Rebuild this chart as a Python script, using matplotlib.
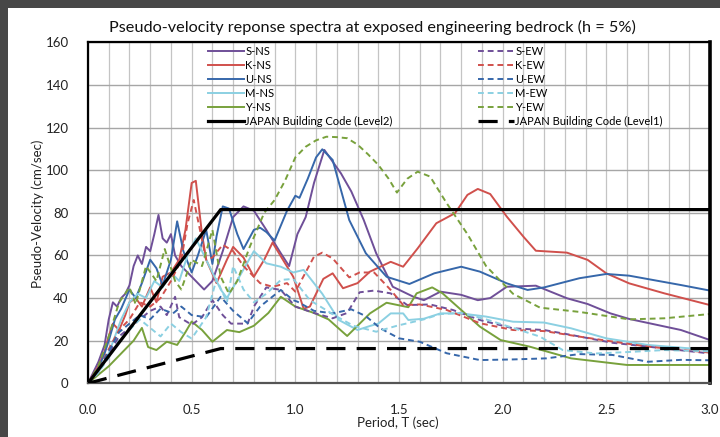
import matplotlib
matplotlib.use("Agg")
import matplotlib.pyplot as plt
from matplotlib.patches import Rectangle

plt.rcParams['font.family'] = ['Lato', 'DejaVu Sans']

# ---------------- data ----------------
S_NS_T = [0, 0.05, 0.08, 0.1, 0.12, 0.14, 0.16, 0.18, 0.2, 0.22, 0.24, 0.26, 0.28, 0.3, 0.32, 0.34, 0.36, 0.38, 0.4, 0.42, 0.45, 0.5, 0.56, 0.6, 0.65, 0.7, 0.75, 0.8, 0.86, 0.93, 0.97, 1.01, 1.05, 1.09, 1.14, 1.22, 1.27, 1.33, 1.39, 1.47, 1.57, 1.62, 1.7, 1.8, 1.88, 1.94, 2.02, 2.16, 2.31, 2.41, 2.52, 2.61, 2.86, 3.0]
S_NS_V = [0, 10, 18, 30, 38, 36, 40, 42, 46, 55, 60, 56, 64, 62, 70, 79, 68, 66, 70, 60, 55, 50, 44, 48, 62, 78, 83, 81, 72, 61, 55, 70, 78, 94, 109.5, 98.5, 90, 76.6, 61, 45.3, 40.6, 39, 43, 41.5, 39, 40, 45.3, 45.8, 39.9, 37.2, 32.8, 30.2, 25, 20.3]

K_NS_T = [0, 0.05, 0.08, 0.1, 0.12, 0.15, 0.18, 0.2, 0.23, 0.26, 0.3, 0.33, 0.36, 0.4, 0.44, 0.47, 0.5, 0.52, 0.55, 0.57, 0.62, 0.67, 0.7, 0.75, 0.8, 0.85, 0.89, 0.94, 0.99, 1.04, 1.07, 1.135, 1.18, 1.23, 1.3, 1.36, 1.46, 1.52, 1.59, 1.68, 1.77, 1.83, 1.88, 1.94, 2.02, 2.1, 2.16, 2.31, 2.41, 2.5, 2.61, 2.78, 3.0]
K_NS_V = [0, 8, 15, 22, 28, 25, 32, 38, 40, 36, 45, 38, 50, 52, 58, 72, 94, 95, 70, 58, 47, 58, 64, 59, 50, 58, 66, 58, 50, 35, 36, 49, 51.6, 44.6, 47, 52.4, 57, 54.7, 63.3, 75.1, 79.8, 88.4, 91.2, 88.8, 78.2, 68.8, 62.2, 61.3, 57.9, 51.6, 46.9, 42.2, 36.7]

U_NS_T = [0, 0.05, 0.08, 0.1, 0.13, 0.16, 0.2, 0.23, 0.26, 0.3, 0.33, 0.36, 0.4, 0.43, 0.46, 0.5, 0.53, 0.57, 0.6, 0.62, 0.65, 0.68, 0.72, 0.75, 0.8, 0.83, 0.86, 0.9, 0.96, 1.0, 1.02, 1.06, 1.1, 1.13, 1.18, 1.26, 1.34, 1.44, 1.55, 1.67, 1.8, 1.89, 2.02, 2.12, 2.2, 2.37, 2.5, 2.61, 2.86, 3.0]
U_NS_V = [0, 7, 14, 20, 30, 35, 44, 40, 47, 58, 54, 46, 58, 76, 62, 52, 60, 72, 56, 69, 83, 82, 70, 63, 72, 73, 71, 67, 81, 88, 87, 96, 106, 109.8, 104.8, 76.6, 61, 50, 46.6, 51.6, 54.7, 52.4, 46.9, 43.8, 45, 49.3, 51.3, 50.5, 46.1, 43.5]

M_NS_T = [0, 0.05, 0.1, 0.13, 0.16, 0.2, 0.24, 0.28, 0.32, 0.36, 0.4, 0.44, 0.48, 0.52, 0.55, 0.6, 0.64, 0.67, 0.73, 0.8, 0.86, 0.93, 0.99, 1.04, 1.13, 1.21, 1.3, 1.36, 1.4, 1.46, 1.52, 1.545, 1.62, 1.7, 1.8, 1.92, 2.05, 2.2, 2.33, 2.5, 2.7, 3.0]
M_NS_V = [0, 5, 14, 22, 30, 38, 42, 40, 48, 45, 52, 48, 60, 68, 62, 52, 44, 40, 50, 62, 56.3, 54.7, 52, 53.2, 42, 29.7, 25, 26.9, 28, 32.8, 32.8, 29.7, 30.3, 32.8, 32.8, 31.3, 28.9, 28.5, 25.8, 21.1, 18, 15.6]

Y_NS_T = [0, 0.05, 0.1, 0.12, 0.15, 0.19, 0.22, 0.26, 0.29, 0.33, 0.38, 0.43, 0.47, 0.5, 0.55, 0.6, 0.67, 0.73, 0.8, 0.87, 0.93, 1.0, 1.09, 1.16, 1.25, 1.3, 1.36, 1.44, 1.545, 1.585, 1.66, 1.71, 1.8, 1.89, 1.99, 2.13, 2.33, 2.6, 3.0]
Y_NS_V = [0, 4, 8, 10, 13, 17, 20, 26, 17, 15.6, 19.5, 18, 24, 29, 25, 19.5, 25, 24, 27, 33, 40.6, 36, 33, 30, 22.2, 27, 32.8, 37.8, 35.7, 42.2, 45, 42.2, 34.4, 26.6, 20.3, 17.2, 11.7, 8.6, 8.6]

S_EW_T = [0, 0.05, 0.1, 0.15, 0.2, 0.25, 0.3, 0.35, 0.38, 0.42, 0.44, 0.5, 0.55, 0.6, 0.65, 0.69, 0.77, 0.8, 0.86, 0.93, 1.0, 1.09, 1.18, 1.25, 1.31, 1.38, 1.46, 1.54, 1.65, 1.76, 1.89, 2.05, 2.2, 2.33, 2.53, 2.7, 3.0]
S_EW_V = [0, 5, 14, 22, 26, 30, 34, 36, 32, 40.6, 31, 27.5, 31, 39, 32, 28, 28, 36, 45, 43.8, 36, 33, 30.5, 33, 42.7, 43.5, 42.2, 36.7, 37, 34.4, 29.7, 25.8, 25, 22.7, 19, 17.2, 14]

K_EW_T = [0, 0.05, 0.1, 0.15, 0.2, 0.25, 0.3, 0.35, 0.4, 0.45, 0.48, 0.51, 0.54, 0.57, 0.6, 0.65, 0.7, 0.75, 0.83, 0.89, 0.96, 1.0, 1.09, 1.13, 1.18, 1.26, 1.31, 1.38, 1.46, 1.52, 1.6, 1.73, 1.89, 2.05, 2.2, 2.37, 2.53, 2.7, 3.0]
K_EW_V = [0, 6, 16, 25, 30, 38, 36, 40, 48, 58, 75, 86, 72, 58, 59, 65, 62, 55, 47, 45.3, 47, 43, 59.4, 61.3, 58.6, 49.7, 52, 52, 43.8, 36.7, 37, 34.4, 28.2, 25, 24.5, 21.9, 19.6, 17.2, 14.4]

U_EW_T = [0, 0.05, 0.1, 0.15, 0.2, 0.25, 0.3, 0.35, 0.41, 0.45, 0.5, 0.57, 0.64, 0.7, 0.77, 0.83, 0.93, 0.99, 1.01, 1.09, 1.18, 1.27, 1.34, 1.41, 1.5, 1.6, 1.73, 1.89, 2.05, 2.21, 2.37, 2.53, 2.7, 2.86, 3.0]
U_EW_V = [0, 6, 15, 24, 28, 32, 30, 35, 32.8, 36, 32, 31, 40.6, 34, 28.2, 36, 43.8, 39, 38.3, 34, 32.8, 34.7, 31.5, 25.8, 21.1, 19.5, 14.1, 10.9, 11.2, 11.7, 13.7, 13.3, 10.1, 11, 10.8]

M_EW_T = [0, 0.05, 0.1, 0.15, 0.2, 0.25, 0.3, 0.35, 0.4, 0.45, 0.5, 0.57, 0.62, 0.67, 0.7, 0.75, 0.8, 0.86, 0.93, 0.99, 1.07, 1.2, 1.28, 1.39, 1.49, 1.62, 1.7, 1.8, 1.92, 2.05, 2.18, 2.29, 2.45, 2.61, 2.78, 3.0]
M_EW_V = [0, 5, 12, 20, 25, 30, 26, 22, 28, 24, 21, 31, 49, 38, 55, 44, 38, 42, 48.5, 49, 39, 31.3, 27, 24.2, 27, 30, 32.5, 33, 30, 26, 21.9, 15.6, 14, 14.7, 15.6, 15]

Y_EW_T = [0, 0.05, 0.1, 0.15, 0.2, 0.23, 0.28, 0.33, 0.37, 0.42, 0.45, 0.5, 0.55, 0.6, 0.64, 0.68, 0.72, 0.78, 0.85, 0.9, 0.95, 1.0, 1.05, 1.1, 1.15, 1.2, 1.25, 1.3, 1.35, 1.4, 1.45, 1.49, 1.54, 1.59, 1.65, 1.73, 1.83, 1.92, 2.05, 2.18, 2.37, 2.61, 2.78, 3.0]
Y_EW_V = [0, 8, 22, 38, 45, 37, 55, 48, 63, 48, 44, 58, 55, 72, 50, 42, 48, 64, 80, 86, 95, 106, 111, 114, 115.7, 115.5, 115, 112, 107.5, 102.5, 96, 89.5, 96, 99.3, 97, 84.5, 70, 55, 42, 35.5, 33.5, 30, 30.5, 32.5]

CODE_T = [0, 0.16, 0.64, 3.0]
LEVEL2_V = [0, 20.4, 81.5, 81.5]
LEVEL1_V = [0, 4.1, 16.3, 16.3]

LABELS_NS = ['S-NS', 'K-NS', 'U-NS', 'M-NS', 'Y-NS']
LABELS_EW = ['S-EW', 'K-EW', 'U-EW', 'M-EW', 'Y-EW']
COLORS = ['#6f4f98', '#d0504c', '#3667aa', '#8bd0e2', '#78a13c']

X_TICKS = [0.0, 0.5, 1.0, 1.5, 2.0, 2.5, 3.0]
Y_TICKS = [0, 20, 40, 60, 80, 100, 120, 140, 160]

# ---------------- figure ----------------
W, H = 720, 437
fig = plt.figure(figsize=(W / 100, H / 100), dpi=100)
fig.patch.set_facecolor('#474747')
bg = Rectangle((8 / W, 0), 1, 1 - 8 / H, transform=fig.transFigure,
               facecolor='white', edgecolor='none', zorder=-10)
fig.patches.append(bg)

ax = fig.add_axes([88 / W, 1 - 383.3 / H, (710 - 88) / W, (383.3 - 42.3) / H])
ax.set_zorder(1)
ax.patch.set_alpha(0)
ax.set_xlim(0, 3.0)
ax.set_ylim(0, 160)

# grid
ax.set_xticks([i / 10 for i in range(31)], minor=True)
ax.set_xticks(X_TICKS)
ax.set_yticks(Y_TICKS)
ax.grid(True, which='minor', axis='x', color='#c4c4c4', lw=0.9)
ax.grid(True, which='major', axis='x', color='#c4c4c4', lw=0.9)
ax.grid(True, which='major', axis='y', color='#a6a6a6', lw=1.0)
ax.set_axisbelow(True)
ax.tick_params(which='both', length=0)
ax.tick_params(axis='x', pad=15, labelsize=9.5, labelcolor='#222222')
ax.tick_params(axis='y', pad=14, labelsize=9.5, labelcolor='#222222')
ax.set_xticklabels([f'{v:.1f}' for v in X_TICKS])
ax.set_yticklabels([str(v) for v in Y_TICKS])

for name, sp in ax.spines.items():
    sp.set_color('black')
    sp.set_linewidth(1.6)
ax.spines['right'].set_linewidth(2.6)
ax.spines['bottom'].set_color('#555555')

ns_T = [S_NS_T, K_NS_T, U_NS_T, M_NS_T, Y_NS_T]
ns_V = [S_NS_V, K_NS_V, U_NS_V, M_NS_V, Y_NS_V]
ew_T = [S_EW_T, K_EW_T, U_EW_T, M_EW_T, Y_EW_T]
ew_V = [S_EW_V, K_EW_V, U_EW_V, M_EW_V, Y_EW_V]

h_ns, h_ew = [], []
for t, v, c, lab in zip(ns_T, ns_V, COLORS, LABELS_NS):
    ln, = ax.plot(t, v, color=c, lw=1.4, label=lab, solid_joinstyle='round')
    h_ns.append(ln)
for t, v, c, lab in zip(ew_T, ew_V, COLORS, LABELS_EW):
    ln, = ax.plot(t, v, color=c, lw=1.4, ls=(0, (3, 2)), label=lab)
    h_ew.append(ln)

l2, = ax.plot(CODE_T, LEVEL2_V, color='black', lw=2.3, label='JAPAN Building Code (Level2)', zorder=5)
l1, = ax.plot(CODE_T, LEVEL1_V, color='black', lw=2.3, ls=(0, (6, 3.5)), label='JAPAN Building Code (Level1)', zorder=5)

title = 'Pseudo-velocity reponse spectra at exposed engineering bedrock (h = 5%)'
fig.text(372 / W, 1 - 27 / H, title, ha='center', va='center', fontsize=11.7, color='#111111')
fig.text(398 / W, 1 - 423 / H, 'Period, T (sec)', ha='center', va='center', fontsize=9.5, color='#222222')
fig.text(38 / W, 1 - 214 / H, 'Pseudo-Velocity (cm/sec)', ha='center', va='center',
         rotation=90, fontsize=9.5, color='#222222')

leg_kw = dict(frameon=False, fontsize=8, labelspacing=0.27, handlelength=3.2,
              handletextpad=0.15, borderpad=0, borderaxespad=0, loc='upper left')
leg1 = ax.legend(h_ns + [l2], LABELS_NS + [l2.get_label()],
                 bbox_to_anchor=(208 / W, 1 - 46 / H), bbox_transform=fig.transFigure, **leg_kw)
ax.add_artist(leg1)
leg2 = ax.legend(h_ew + [l1], LABELS_EW + [l1.get_label()],
                 bbox_to_anchor=(478 / W, 1 - 46 / H), bbox_transform=fig.transFigure, **leg_kw)

fig.savefig('out.png', dpi=100, facecolor=fig.get_facecolor())
